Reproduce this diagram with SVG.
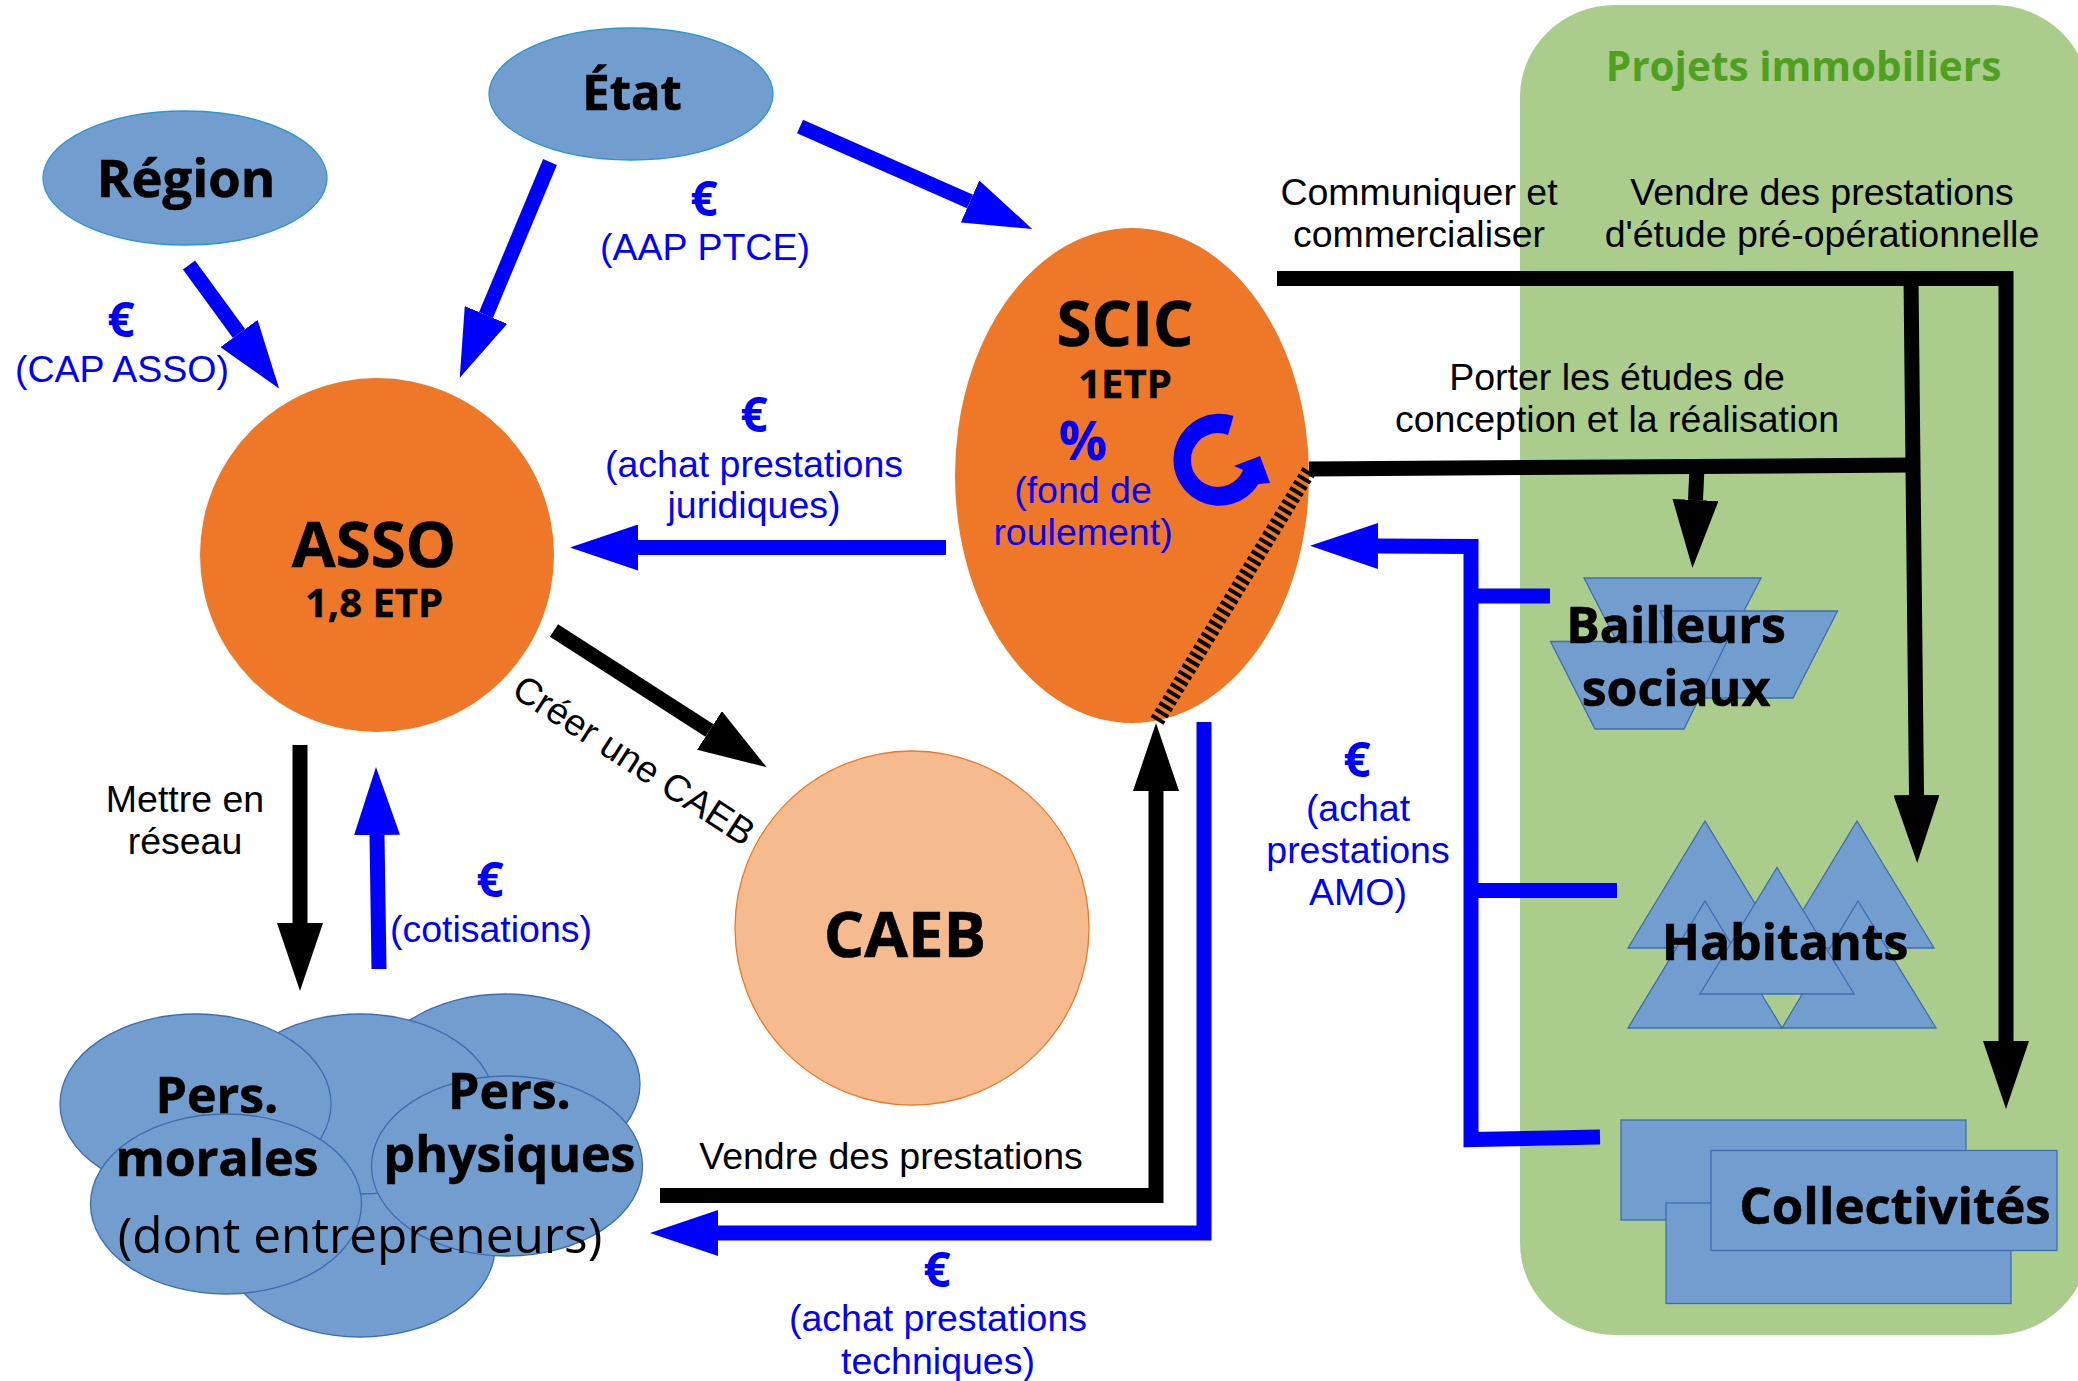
<svg xmlns="http://www.w3.org/2000/svg" width="2078" height="1381" viewBox="0 0 2078 1381">
<style>
text{text-anchor:middle}
.t{font-family:"Liberation Sans",Arial,sans-serif;font-size:37.5px;fill:#000}
.tb{font-family:"Liberation Sans",Arial,sans-serif;font-size:37.5px;fill:#00f}
.e{font-family:"Open Sans","Noto Sans",sans-serif;font-weight:700;font-size:48px;fill:#00f}
.h1{font-family:"Open Sans","Noto Sans",sans-serif;font-weight:700;font-size:63.5px;fill:#000;stroke:#000;stroke-width:.6px}
.h2{font-family:"Open Sans","Noto Sans",sans-serif;font-weight:700;font-size:50px;fill:#000;stroke:#000;stroke-width:.6px}
.h3{font-family:"Open Sans","Noto Sans",sans-serif;font-weight:700;font-size:40px;fill:#000;stroke:#000;stroke-width:.4px}
.s{fill:#729ecf;stroke:#3d6db0;stroke-width:1.3}
.s2{fill:#729ecf;stroke:#2a96d2;stroke-width:1.3}
.o{fill:#ee7827}
.cb{fill:none;stroke:#00f;stroke-width:15;stroke-linejoin:miter}
.ck{fill:none;stroke:#000;stroke-width:15;stroke-linejoin:miter}
.ab{marker-end:url(#hb)}
.ak{marker-end:url(#hk)}
</style>
<defs>
<marker id="hb" markerUnits="userSpaceOnUse" markerWidth="68" markerHeight="46" refX="0" refY="23" orient="auto"><path d="M0,0L68,23L0,46Z" fill="#00f"/></marker>
<marker id="hk" markerUnits="userSpaceOnUse" markerWidth="68" markerHeight="46" refX="0" refY="23" orient="auto"><path d="M0,0L68,23L0,46Z" fill="#000"/></marker>
</defs>
<g id="projets-immobiliers">
<rect x="1520" y="5" width="569" height="1330" rx="95" ry="92" fill="#aacd8c"/>
<text x="1803.5" y="81" font-family="'Open Sans','Noto Sans',sans-serif" font-weight="700" font-size="40.5" fill="#4fa01e">Projets immobiliers</text>
</g>
<g id="region">
<ellipse class="s2" cx="185" cy="178" rx="142" ry="67"/>
<text class="h2" x="186" y="197" style="font-size:52.5px">Région</text>
</g>
<g id="etat">
<ellipse class="s2" cx="631" cy="94" rx="142" ry="66"/>
<text class="h2" x="632" y="110" style="font-size:49px">État</text>
</g>
<g id="asso">
<circle class="o" cx="377" cy="555" r="177"/>
<text class="h1" x="374" y="567">ASSO</text>
<text class="h3" x="374" y="617">1,8 ETP</text>
</g>
<g id="caeb">
<circle cx="912" cy="928" r="177" fill="#f5bb8f" stroke="#ee7827" stroke-width="1.3"/>
<text class="h1" x="905" y="957">CAEB</text>
</g>
<g id="scic">
<ellipse class="o" cx="1132" cy="475.500" rx="177" ry="247.500"/>
<path d="M1309,471L1157,721" fill="none" stroke="#000" stroke-width="15" stroke-dasharray="3.900 3.500"/>
<path d="M1233.500,416A46,46 0 1 0 1258.500,484L1270,483L1260,456L1234,466L1243,470A27,27 0 1 1 1228,435Z" fill="#00f"/>
<text class="h1" x="1125" y="346">SCIC</text>
<text class="h3" x="1125" y="398">1ETP</text>
<text x="1083" y="460" font-family="'Open Sans','Noto Sans',sans-serif" font-weight="700" font-size="54" fill="#00f">%</text>
<text class="tb" x="1083" y="503">(fond de</text>
<text class="tb" x="1083" y="545">roulement)</text>
</g>
<g id="personnes">
<ellipse class="s" cx="505" cy="1084" rx="135" ry="90"/>
<ellipse class="s" cx="360" cy="1247" rx="135" ry="90"/>
<ellipse class="s" cx="360" cy="1104" rx="135" ry="90"/>
<ellipse class="s" cx="195.500" cy="1104" rx="135.500" ry="90"/>
<ellipse class="s" cx="226" cy="1204" rx="135.500" ry="90"/>
<ellipse class="s" cx="507" cy="1166" rx="135.500" ry="90"/>
<text class="h2" x="217" y="1113">Pers.</text>
<text class="h2" x="217" y="1176">morales</text>
<text class="h2" x="509.500" y="1109">Pers.</text>
<text class="h2" x="509.500" y="1172">physiques</text>
<text x="360" y="1253" font-family="'Open Sans','Noto Sans',sans-serif" font-size="49.5" fill="#000">(dont entrepreneurs)</text>
</g>
<g id="bailleurs">
<path class="s" d="M1584,578H1761L1716,665H1629Z"/>
<path class="s" d="M1660,611H1837.500L1793,698H1705Z"/>
<path class="s" d="M1550.500,641.500H1727L1684,729H1595Z"/>
<text class="h2" x="1676" y="643">Bailleurs</text>
<text class="h2" x="1676" y="706">sociaux</text>
</g>
<g id="habitants">
<path class="s" d="M1705,821L1782,948H1628Z"/>
<path class="s" d="M1857,821L1934,948H1780Z"/>
<path class="s" d="M1705,901L1782,1028H1628Z"/>
<path class="s" d="M1858,901L1936,1028H1782Z"/>
<path class="s" d="M1777,867.500L1854,994H1700Z"/>
<text class="h2" x="1785" y="960">Habitants</text>
</g>
<g id="collectivites">
<rect class="s" x="1621" y="1120" width="345" height="100"/>
<rect class="s" x="1666" y="1203" width="345" height="100.500"/>
<rect class="s" x="1711" y="1150.500" width="346" height="100"/>
<text class="h2" x="1895" y="1224" style="font-size:51px">Collectivités</text>
</g>
<g id="connectors">
<path class="cb ab" d="M189,265L239,333.500"/>
<path class="cb ab" d="M550,162L486,315"/>
<path class="cb ab" d="M800,126.500L970,201.500"/>
<path class="ck ak" d="M554,630.500L709.500,730.500"/>
<path class="cb ab" d="M946,547.500H638"/>
<path class="ck ak" d="M300,745V923"/>
<path class="cb ab" d="M379,969L377,835"/>
<path class="ck ak" d="M660,1195.500H1156V791"/>
<path class="cb ab" d="M1204,722V1233H718"/>
<path class="ck ak" d="M1277,278.500H2006V1041"/>
<path class="ck ak" d="M1911,278L1916.500,795"/>
<path class="ck" d="M1309,469L1913,465"/>
<path class="ck ak" d="M1697,467L1695.500,500"/>
<path class="cb ab" d="M1600,1137L1471,1139.500V546.500L1378,546"/>
<path class="cb" d="M1471,596H1550"/>
<path class="cb" d="M1471,890.500H1617"/>
</g>
<g id="labels">
<text class="e" x="704" y="216">€</text>
<text class="tb" x="705" y="260">(AAP PTCE)</text>
<text class="e" x="121" y="337">€</text>
<text class="tb" x="122" y="382">(CAP ASSO)</text>
<text class="e" x="754" y="432">€</text>
<text class="tb" x="754" y="477">(achat prestations</text>
<text class="tb" x="754" y="518">juridiques)</text>
<text class="e" x="490" y="897">€</text>
<text class="tb" x="491" y="942">(cotisations)</text>
<text class="e" x="1357" y="777">€</text>
<text class="tb" x="1358" y="821">(achat</text>
<text class="tb" x="1358" y="863">prestations</text>
<text class="tb" x="1358" y="905">AMO)</text>
<text class="e" x="937" y="1287">€</text>
<text class="tb" x="938" y="1331">(achat prestations</text>
<text class="tb" x="938" y="1374">techniques)</text>
<text class="t" x="185" y="812">Mettre en</text>
<text class="t" x="185" y="854">réseau</text>
<text class="t" x="891" y="1169">Vendre des prestations</text>
<text class="t" transform="translate(627,771) rotate(33)">Créer une CAEB</text>
<text class="t" x="1419" y="205">Communiquer et</text>
<text class="t" x="1419" y="247">commercialiser</text>
<text class="t" x="1822" y="205">Vendre des prestations</text>
<text class="t" x="1822" y="247">d'étude pré-opérationnelle</text>
<text class="t" x="1617" y="390">Porter les études de</text>
<text class="t" x="1617" y="432">conception et la réalisation</text>
</g>
</svg>
